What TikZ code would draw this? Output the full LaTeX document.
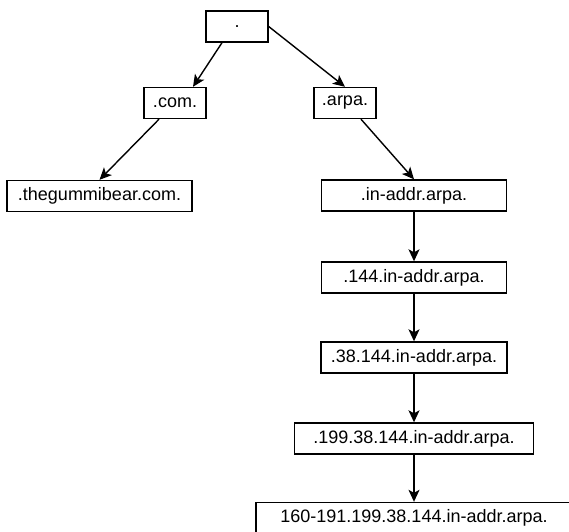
\documentclass[tikz,border=0pt]{standalone}
\usepackage{fontspec}
\setmainfont{Liberation Sans}
\usetikzlibrary{arrows.meta}
\begin{document}
\begin{tikzpicture}[x=1pt,y=-1pt,
  dnsbox/.style={draw=black, line width=1.4pt, rectangle, inner sep=0pt,
    minimum height=31pt, font=\fontsize{18}{20}\selectfont, text=black},
  link/.style={draw=black, line width=1.4pt,
    -{Stealth[length=12pt,width=11pt,inset=3pt]}}]
  \clip (0,0) rectangle (569,531);
  \fill[white] (0,0) rectangle (569,531);

  % DNS tree: root, top-level domains, forward and reverse branches
  \node[dnsbox, minimum width=62pt]  (root)   at (237,26.5)  {.};
  \node[dnsbox, minimum width=62pt]  (com)    at (175,103)   {.com.};
  \node[dnsbox, minimum width=62pt]  (arpa)   at (345,103)   {.arpa.};
  \node[dnsbox, minimum width=185pt] (gummi)  at (99.5,196)  {.thegummibear.com.};
  \node[dnsbox, minimum width=185pt] (inaddr) at (414,195.5) {.in-addr.arpa.};
  \node[dnsbox, minimum width=185pt] (o144)   at (414,277.5) {.144.in-addr.arpa.};
  \node[dnsbox, minimum width=186pt] (o38)    at (414,357.5) {.38.144.in-addr.arpa.};
  \node[dnsbox, minimum width=239pt] (o199)   at (414,438.5) {.199.38.144.in-addr.arpa.};
  \node[dnsbox, minimum width=316pt] (range)  at (414,518)   {160-191.199.38.144.in-addr.arpa.};

  % delegation arrows
  \draw[link] ([xshift=-15pt]root.south) -- ([xshift=18pt]com.north);
  \draw[link] (root.east) -- (arpa.north);
  \draw[link] ([xshift=-16pt]com.south) -- (gummi.north);
  \draw[link] ([xshift=16pt]arpa.south) -- (inaddr.north);
  \draw[link] (inaddr) -- (o144);
  \draw[link] (o144) -- (o38);
  \draw[link] (o38) -- (o199);
  \draw[link] (o199) -- (range);
\end{tikzpicture}
\end{document}
